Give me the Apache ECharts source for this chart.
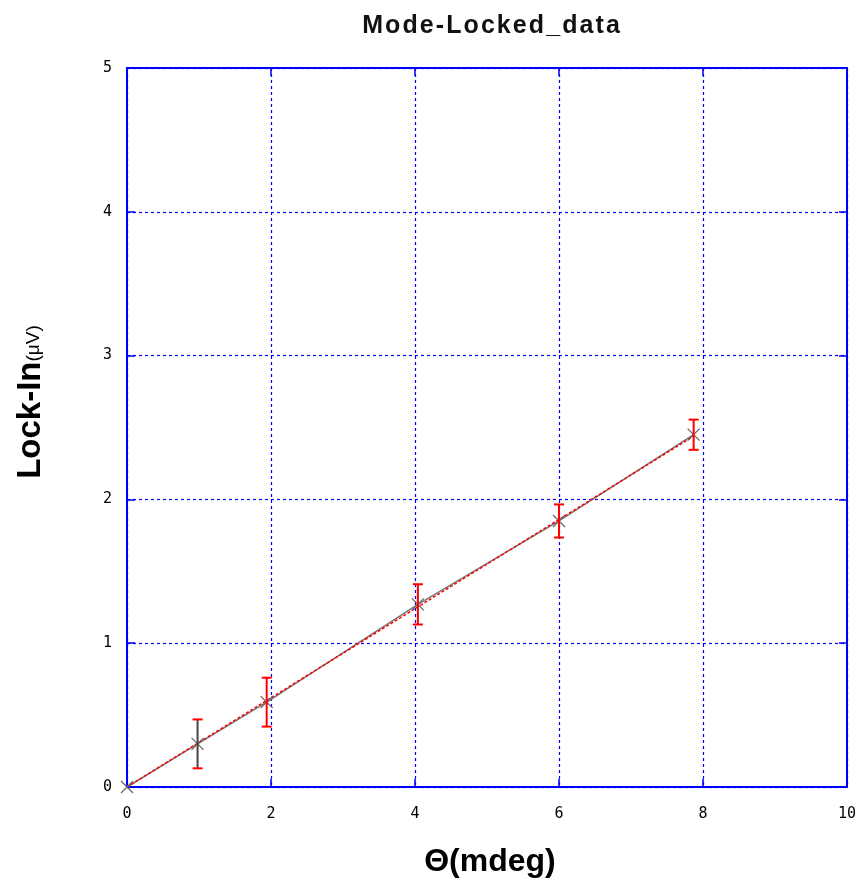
<!DOCTYPE html>
<html><head><meta charset="utf-8">
<script src="https://cdn.jsdelivr.net/npm/echarts@6/dist/echarts.min.js"></script>
<style>html,body{margin:0;padding:0;background:#fff}#c{width:866px;height:891px}</style>
</head><body><div id="c"></div>
<script>
var titleText = 'Mode-Locked_data';
var xVals = [0, 0.98, 1.94, 4.04, 6.0, 7.87];
var yVals = [0, 0.30, 0.59, 1.27, 1.85, 2.45];
var yErr = [0, 0.17, 0.17, 0.14, 0.115, 0.105];
var fitX = [0, 7.87];
var fitY = [0, 2.44];

var pts = xVals.map(function(x,i){return [x, yVals[i], yErr[i]];});
var fit = fitX.map(function(x,i){return [x, fitY[i]];});

var chart = echarts.init(document.getElementById('c'));
var aLine = {show:true,onZero:false,lineStyle:{color:'#0000ff',width:2}};
var aTick = {show:true,inside:true,length:8,lineStyle:{color:'#0000ff',width:1.5}};
var gridLine = {show:true,lineStyle:{color:'#0000ff',type:[3,3],width:1.2}};
var xlbl = {color:'#000',fontSize:15,fontFamily:'DejaVu Sans Mono, monospace',margin:20};
var ylbl = {color:'#000',fontSize:15,fontFamily:'DejaVu Sans Mono, monospace',margin:15};
chart.setOption({
  animation:false,
  backgroundColor:'#fff',
  title:{text:titleText.split('').join('\u200A'),left:486,top:9,textAlign:'center',
    textStyle:{fontFamily:'Liberation Sans, Arial',fontWeight:'bold',fontSize:25,color:'#111'}},
  grid:{left:127,right:19,top:68,bottom:104},
  xAxis:[
    {type:'value',min:0,max:10,interval:2,position:'bottom',axisLabel:xlbl,splitLine:gridLine,axisLine:aLine,axisTick:aTick},
    {type:'value',min:0,max:10,interval:2,position:'top',axisLabel:{show:false},splitLine:{show:false},axisLine:aLine,axisTick:aTick}
  ],
  yAxis:[
    {type:'value',min:0,max:5,interval:1,position:'left',axisLabel:ylbl,splitLine:gridLine,axisLine:aLine,axisTick:aTick},
    {type:'value',min:0,max:5,interval:1,position:'right',axisLabel:{show:false},splitLine:{show:false},axisLine:aLine,axisTick:aTick}
  ],
  graphic:[
    {type:'group',x:31,y:402,rotation:Math.PI/2,children:[
      {type:'text',style:{
        text:'{a|Lock-In}{b|(μV)}',
        rich:{a:{fontFamily:'Liberation Sans, Arial',fontWeight:'bold',fontSize:33,fill:'#000'},
              b:{fontFamily:'Liberation Sans, Arial',fontSize:19,fill:'#000',padding:[6,0,0,0]}},
        align:'center',verticalAlign:'middle'}}
    ]},
    {type:'text',x:490,y:862,style:{text:'Θ(mdeg)',fontFamily:'Liberation Sans, Arial',fontWeight:'bold',fontSize:32,fill:'#000',align:'center',verticalAlign:'middle'}}
  ],
  series:[
    {type:'line',data:pts.map(function(p){return [p[0],p[1]];}),symbol:'none',
     lineStyle:{color:'#777',width:1.5},z:3},
    {type:'line',data:fit,symbol:'none',lineStyle:{color:'#ff0000',width:1.5,type:[3,2]},z:4},
    {type:'custom',data:pts,z:5,
     renderItem:function(params,api){
       var x=api.value(0),y=api.value(1),e=api.value(2);
       var c=api.coord([x,y]);
       var children=[];
       var s=6;
       children.push({type:'line',shape:{x1:c[0]-s,y1:c[1]-s,x2:c[0]+s,y2:c[1]+s},style:{stroke:'#666',lineWidth:1.2}});
       children.push({type:'line',shape:{x1:c[0]-s,y1:c[1]+s,x2:c[0]+s,y2:c[1]-s},style:{stroke:'#666',lineWidth:1.2}});
       if(e>0){
         var t=api.coord([x,y+e]),b=api.coord([x,y-e]);
         var stem = params.dataIndex===1 ? '#444' : '#ff0000';
         children.push({type:'line',shape:{x1:c[0],y1:t[1],x2:c[0],y2:b[1]},style:{stroke:stem,lineWidth:2}});
         children.push({type:'line',shape:{x1:c[0]-5,y1:t[1],x2:c[0]+5,y2:t[1]},style:{stroke:'#ff0000',lineWidth:2}});
         children.push({type:'line',shape:{x1:c[0]-5,y1:b[1],x2:c[0]+5,y2:b[1]},style:{stroke:'#ff0000',lineWidth:2}});
       }
       return {type:'group',children:children};
     }}
  ]
});
</script></body></html>
